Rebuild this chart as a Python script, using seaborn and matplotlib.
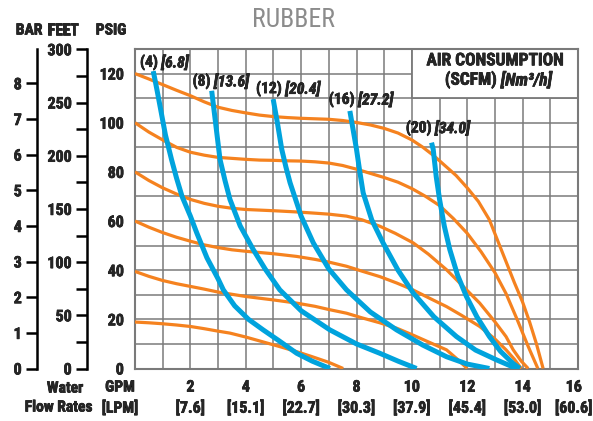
import os
import pandas as pd
import matplotlib
matplotlib.use("Agg")
import matplotlib.pyplot as plt
from matplotlib import font_manager
from matplotlib import patheffects
from matplotlib.font_manager import FontProperties
from matplotlib.ticker import MultipleLocator
import seaborn as sns

# Pump curve values (GPM vs PSIG)
air_psi = [120, 100, 80, 60, 40, 20]
air_gpm = [
    [0, 0.5, 1, 1.5, 2, 2.5, 3, 3.5, 4, 4.5, 5, 5.5, 6, 6.5, 7, 7.5, 8, 8.5, 9, 9.5, 10,
     10.4, 10.8, 11.2, 11.6, 12, 12.4, 12.8, 13.1, 13.4, 13.7, 14, 14.25, 14.5, 14.74],
    [0, 0.5, 1, 1.5, 2, 2.5, 3, 3.5, 4, 4.5, 5, 5.5, 6, 6.5, 7, 7.5, 8, 8.5, 9, 9.5, 10,
     10.5, 11, 11.5, 12, 12.5, 13, 13.4, 13.8, 14.2, 14.55],
    [0, 0.5, 1, 1.5, 2, 2.5, 3, 3.5, 4, 5, 5.84, 6.5, 7, 7.64, 8.2, 8.84, 9.4, 10.05,
     10.6, 11.25, 11.8, 12.45, 13, 13.4, 13.66, 13.95, 14.2],
    [0, 0.5, 1, 1.5, 2, 2.5, 3, 3.5, 4, 5, 5.84, 6.5, 7, 7.64, 8.2, 8.84, 9.45, 10,
     10.6, 11.25, 11.8, 12.45, 13, 13.4, 13.7, 13.95],
    [0, 0.5, 1, 1.5, 2, 2.5, 3, 3.5, 4, 5, 5.84, 6.5, 7, 7.64, 8.2, 8.84, 9.45, 10,
     10.6, 11.25, 11.6, 12.0],
    [0, 0.5, 1, 1.5, 2, 2.5, 3, 3.43, 4, 4.6, 5.23, 5.8, 6.4, 7, 7.52],
]
air_head = [
    [120, 117.8, 115.5, 113.2, 111, 108.5, 106.3, 105, 104, 103.1, 102.5, 102.1, 101.8,
     101.6, 101.4, 100.9, 100.1, 99.1, 97.7, 95.8, 93, 90, 86.5, 82.5, 78.5, 73.5, 68,
     60.5, 52, 43.5, 35, 27, 19, 10, 0],
    [100, 96.2, 93, 90, 88, 86.8, 85.9, 85.5, 85.1, 84.8, 84.7, 84.5, 84.4, 84.1, 83.6,
     82.6, 81.1, 79.4, 77.7, 75.8, 73.2, 70, 66.3, 61, 55, 47.5, 39, 30.5, 20, 9, 0],
    [80, 76.5, 73.5, 71, 68.8, 67.2, 66, 65.2, 64.7, 64.2, 63.7, 63.2, 62.8, 62, 60.5,
     57.9, 55, 51.1, 46.5, 40.2, 34, 26.6, 19, 13, 7.6, 3, 0],
    [60, 57.5, 55.3, 53.4, 51.8, 50.3, 49.2, 48.3, 47.7, 46.7, 45.6, 44.4, 43.3, 41.6,
     39.6, 37.4, 34.8, 32.2, 28.8, 25.2, 21.6, 17.1, 12, 7.6, 3.8, 0],
    [39.5, 37.5, 35.8, 34.5, 33.4, 32.3, 31.1, 30.2, 29.3, 27.9, 26.6, 25.3, 24, 22.5,
     20.6, 18.6, 16.4, 13.8, 10.8, 7.6, 4.2, 0],
    [18.9, 18.6, 18.2, 17.7, 17.1, 16.2, 15.2, 14.4, 12.8, 10.9, 8.9, 7, 4.8, 2.5, 0],
]

scfm = [4, 8, 12, 16, 20]
nm3h = ["6.8", "13.6", "20.4", "27.2", "34.0"]
scfm_gpm = [
    [0.66, 0.8, 0.95, 1.1, 1.32, 1.5, 1.7, 2.0, 2.23, 2.6, 3.0, 3.19, 3.6, 4.1, 4.63,
     5.2, 5.84, 6.4, 7.04],
    [2.77, 2.92, 3.07, 3.25, 3.43, 3.8, 4.27, 4.7, 5.23, 6.0, 7.04, 8.0, 8.84, 9.5, 10.17],
    [4.99, 5.15, 5.3, 5.45, 5.6, 6.0, 6.44, 7.0, 7.64, 8.5, 9.45, 10.4, 11.25, 12.0, 12.8],
    [7.76, 7.88, 8.0, 8.12, 8.24, 8.55, 8.96, 9.5, 10.05, 10.8, 11.61, 12.3, 13.06, 13.78],
    [10.71, 10.77, 10.88, 11.0, 11.17, 11.37, 11.65, 11.97, 12.35, 12.8, 13.2, 13.66, 13.9],
]
scfm_head = [
    [121, 113, 104, 95, 85, 77.5, 70, 62, 55.2, 45, 36.5, 32, 25.5, 20, 15.7, 11.3, 6.2, 3, 0],
    [113, 99, 85.1, 76.5, 68.8, 58, 48.4, 40.5, 32, 23.5, 15.7, 10, 6.2, 3, 0],
    [109.6, 99.5, 89.2, 82, 75.6, 62, 51.1, 40.5, 32, 23, 15.7, 9.5, 4.8, 1.8, 0],
    [104.8, 97, 89.2, 80, 71.5, 60.5, 51.1, 40, 30.7, 21, 13, 7.5, 3.5, 0],
    [91.9, 89.2, 78, 68.8, 58, 48.4, 38, 29.3, 21, 13, 7, 2, 0],
]
# label anchor (gpm, psi) for each air consumption curve
scfm_label_x = [0.18, 2.08, 4.37, 7.0, 9.78]
scfm_label_y = [124.7, 117.0, 114.0, 109.6, 98.0]

gpm_ticks = [2, 4, 6, 8, 10, 12, 14, 16]
lpm_ticks = ["7.6", "15.1", "22.7", "30.3", "37.9", "45.4", "53.0", "60.6"]
psig_ticks = [0, 20, 40, 60, 80, 100, 120]
feet_ticks = [0, 50, 100, 150, 200, 250, 300]
bar_ticks = [0, 1, 2, 3, 4, 5, 6, 7, 8]

ORANGE = "#F5821F"
BLUE = "#00A3DD"
GRID = "#7a7a7a"

sns.set_theme(style="white")
plt.rcParams["font.family"] = ["Roboto", "DejaVu Sans"]

# a light stroke makes the condensed bold look a little heavier, like the original
HEAVY = [patheffects.withStroke(linewidth=0.45, foreground="black")]


def find_narrow(bold, italic):
    prefs = ["liberation", "roboto", "noto", "open", "lato", "dejavu"]
    found = []
    for f in font_manager.fontManager.ttflist:
        key = (f.name + " " + os.path.basename(f.fname)).lower()
        if "narrow" not in key and "condensed" not in key:
            continue
        if any(w in key for w in ("semi", "extra", "ultra", "mono", "cjk")):
            continue
        if "serif" in key.replace("sans", ""):
            continue
        is_bold = str(f.weight) in ("700", "bold")
        if is_bold != bold or (f.style != "normal") != italic:
            continue
        rank = next((i for i, p in enumerate(prefs) if p in key), len(prefs))
        found.append((rank, f.fname))
    return sorted(found)[0][1] if found else None


def fprop(size, bold=True, italic=False):
    path = find_narrow(bold, italic)
    if path:
        return FontProperties(fname=path, size=size)
    return FontProperties(family=["Roboto", "DejaVu Sans"], size=size,
                          weight="bold" if bold else "normal",
                          style="italic" if italic else "normal")


W, H = 593, 421
fig = plt.figure(figsize=(W / 100, H / 100), dpi=100)


def fx(px):
    return px / W


def fy(py):
    return 1 - py / H


ax = fig.add_axes([fx(135), fy(368.5), fx(578) - fx(135), fy(49) - fy(368.5)])

# curves
for psi, xs, ys in zip(air_psi, air_gpm, air_head):
    df = pd.DataFrame({"gpm": xs, "psig": ys})
    sns.lineplot(data=df, x="gpm", y="psig", ax=ax, color=ORANGE, lw=2.3,
                 sort=False, estimator=None, zorder=3)
for s, xs, ys in zip(scfm, scfm_gpm, scfm_head):
    df = pd.DataFrame({"gpm": xs, "psig": ys})
    sns.lineplot(data=df, x="gpm", y="psig", ax=ax, color=BLUE, lw=3.6,
                 sort=False, estimator=None, zorder=4)
for line in ax.lines:
    line.set_solid_capstyle("butt")
    line.set_solid_joinstyle("round")

ax.set_xlim(0, 16)
ax.set_ylim(0, 130)
ax.set_xlabel("")
ax.set_ylabel("")
ax.grid(True, color=GRID, lw=1.1)
for sp in ax.spines.values():
    sp.set_color(GRID)
    sp.set_linewidth(1.5)

tick_fp = fprop(11.5)
xlabels = [""] * 17
for g, l in zip(gpm_ticks[:-1], lpm_ticks[:-1]):
    xlabels[g] = f"{g}\n[{l}]"
ax.set_xticks(range(17), labels=xlabels)
ylabels = [""] * 14
for p in psig_ticks:
    ylabels[p // 10] = str(p)
ax.set_yticks(range(0, 131, 10), labels=ylabels)
ax.tick_params(axis="x", length=0, pad=8)
ax.tick_params(axis="y", length=0, pad=8)
for lab in ax.get_xticklabels():
    lab.set_fontproperties(tick_fp)
    lab.set_linespacing(1.3)
    lab.set_path_effects(HEAVY)
for lab in ax.get_yticklabels():
    lab.set_fontproperties(tick_fp)
    lab.set_path_effects(HEAVY)
# last flow label sits against the right edge of the picture, nudge it inside
ax.annotate(f"{gpm_ticks[-1]}\n[{lpm_ticks[-1]}]", xy=(gpm_ticks[-1], 0),
            xycoords=ax.get_xaxis_transform(), xytext=(-3, -8),
            textcoords="offset points", ha="center", va="top", linespacing=1.3,
            fontproperties=tick_fp, path_effects=HEAVY, annotation_clip=False)

# air consumption box
ax.add_patch(plt.Rectangle((10, 110), 6, 20, facecolor="white", edgecolor=GRID,
                           lw=1.3, zorder=2))
ax.text(13, 125.2, "AIR CONSUMPTION", ha="center", va="center", zorder=5,
        fontproperties=fprop(12.5), path_effects=HEAVY)
t1 = ax.text(12.2, 117.4, "(SCFM) ", ha="center", va="center", zorder=5,
             fontproperties=fprop(12.5), path_effects=HEAVY)
ax.annotate("[Nm\u00b3/h]", xy=(1, 0.5), xycoords=t1, ha="left", va="center",
            fontproperties=fprop(12.5, italic=True), zorder=5, path_effects=HEAVY)

for s, n, x0, y0 in zip(scfm, nm3h, scfm_label_x, scfm_label_y):
    t = ax.text(x0, y0, f"({s}) ", ha="left", va="center", zorder=5,
                fontproperties=fprop(11.2), path_effects=HEAVY)
    ax.annotate(f"[{n}]", xy=(1, 0.5), xycoords=t, ha="left", va="center",
                fontproperties=fprop(11.2, italic=True), zorder=5, path_effects=HEAVY)

# FEET and BAR scales
feet = fig.add_axes([fx(87), fy(368.5), 0.001, fy(49) - fy(368.5)])
feet.set_ylim(0, 130 * 2.31)
feet.yaxis.set_minor_locator(MultipleLocator(25))
feet.set_yticks(feet_ticks, labels=[str(v) for v in feet_ticks])
bar = fig.add_axes([fx(37), fy(368.5), 0.001, fy(49) - fy(368.5)])
bar.set_ylim(0, 130 / 14.5038)
bar.set_yticks(bar_ticks, labels=[str(v) for v in bar_ticks])
for a in (feet, bar):
    a.set_facecolor("none")
    a.set_xticks([])
    for k in ("top", "right", "bottom"):
        a.spines[k].set_visible(False)
    a.spines["left"].set_color("black")
    a.spines["left"].set_linewidth(1.8)
    a.tick_params(axis="y", which="both", direction="out", length=8, width=1.8,
                  color="black", left=True, pad=3)
    for lab in a.get_yticklabels():
        lab.set_fontproperties(tick_fp)
        lab.set_path_effects(HEAVY)

# headers and footer text
hdr = fprop(11.2)
fig.text(fx(29), fy(30), "BAR", ha="center", va="center", fontproperties=hdr,
         path_effects=HEAVY)
fig.text(fx(63), fy(30), "FEET", ha="center", va="center", fontproperties=hdr,
         path_effects=HEAVY)
fig.text(fx(111), fy(30), "PSIG", ha="center", va="center", fontproperties=hdr,
         path_effects=HEAVY)
fig.text(fx(294), fy(20), "RUBBER", ha="center", va="center", color="#8c8c8c",
         fontproperties=fprop(18.5, bold=False))
fig.text(fx(65), fy(388), "Water", ha="center", va="center", fontproperties=hdr,
         path_effects=HEAVY)
fig.text(fx(92), fy(407), "Flow Rates", ha="right", va="center", fontproperties=hdr,
         path_effects=HEAVY)
fig.text(fx(120), fy(397.5), "GPM\n[LPM]", ha="center", va="center",
         linespacing=1.3, fontproperties=hdr, path_effects=HEAVY)

fig.savefig("out.png", dpi=100)
